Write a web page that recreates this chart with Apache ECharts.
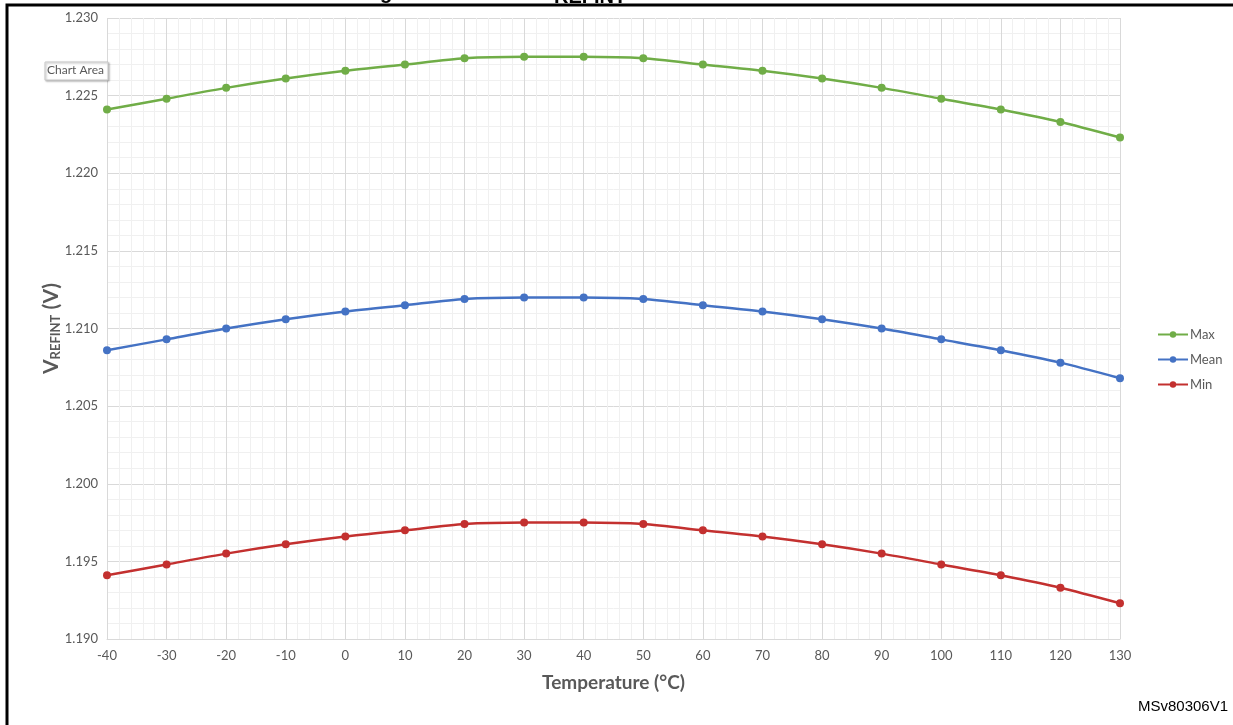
<!DOCTYPE html>
<html>
<head>
<meta charset="utf-8">
<script src="https://cdn.jsdelivr.net/npm/echarts@6/dist/echarts.min.js"></script>
<style>
  html, body { margin: 0; padding: 0; background: #fff; }
  #chart { width: 1233px; height: 725px; }
</style>
</head>
<body>
<div id="chart"></div>
<script>
// temperature points (°C)
const temps = [-40, -30, -20, -10, 0, 10, 20, 30, 40, 50, 60, 70, 80, 90, 100, 110, 120, 130]
// VREFINT values (V)
const maxV = [1.2241, 1.2248, 1.2255, 1.2261, 1.2266, 1.2270, 1.2274, 1.2275, 1.2275, 1.2274, 1.2270, 1.2266, 1.2261, 1.2255, 1.2248, 1.2241, 1.2233, 1.2223]
const meanV = [1.2086, 1.2093, 1.2100, 1.2106, 1.2111, 1.2115, 1.2119, 1.2120, 1.2120, 1.2119, 1.2115, 1.2111, 1.2106, 1.2100, 1.2093, 1.2086, 1.2078, 1.2068]
const minV = [1.1941, 1.1948, 1.1955, 1.1961, 1.1966, 1.1970, 1.1974, 1.1975, 1.1975, 1.1974, 1.1970, 1.1966, 1.1961, 1.1955, 1.1948, 1.1941, 1.1933, 1.1923]
const seriesNames = ['Max', 'Mean', 'Min']
const colors = ['#70ad47', '#4472c4', '#c3302f']

function pairs(vals) {
  return temps.map((t, i) => [t, vals[i]])
}

const font = 'Lato, "Open Sans", sans-serif'
const chart = echarts.init(document.getElementById('chart'))

const lineSeries = [maxV, meanV, minV].map((vals, i) => ({
  name: seriesNames[i],
  type: 'line',
  smooth: 0.25,
  symbol: 'circle',
  symbolSize: 8,
  data: pairs(vals),
  itemStyle: { color: colors[i] },
  lineStyle: { width: 2.5, color: colors[i] }
}))

chart.setOption({
  animation: false,
  color: colors,
  grid: { left: 107, right: 113, top: 18, bottom: 86 },
  legend: {
    data: seriesNames,
    orient: 'vertical',
    left: 1152,
    top: 323,
    itemWidth: 30,
    itemHeight: 8,
    itemGap: 12,
    textStyle: { color: '#595959', fontSize: 13, fontFamily: font, padding: [0, 0, 0, -3] }
  },
  xAxis: {
    type: 'value',
    min: -40,
    max: 130,
    interval: 10,
    name: 'Temperature (°C)',
    nameLocation: 'middle',
    nameGap: 34,
    nameMoveOverlap: false,
    nameTextStyle: { color: '#595959', fontSize: 19, fontWeight: 'bold', fontFamily: font },
    axisLine: { show: true, lineStyle: { color: '#d9d9d9', width: 1 } },
    axisTick: { show: false },
    axisLabel: { color: '#595959', fontSize: 13, fontFamily: font, margin: 10 },
    splitLine: { show: true, lineStyle: { color: '#d9d9d9', width: 1 } },
    minorTick: { show: false, splitNumber: 5 },
    minorSplitLine: { show: true, lineStyle: { color: '#f0f0f0', width: 1 } }
  },
  yAxis: {
    type: 'value',
    min: 1.19,
    max: 1.23,
    interval: 0.005,
    name: '{v|V}{s|REFINT}{v| (V)}',
    nameLocation: 'middle',
    nameGap: 45,
    nameMoveOverlap: false,
    nameTextStyle: {
      rich: {
        v: { color: '#595959', fontSize: 21, fontWeight: 'bold', fontFamily: font },
        s: { color: '#595959', fontSize: 13, fontWeight: 'bold', fontFamily: font, padding: [9, 0, 0, 0] }
      }
    },
    axisLine: { show: true, lineStyle: { color: '#d9d9d9', width: 1 } },
    axisTick: { show: false },
    axisLabel: {
      color: '#595959', fontSize: 13, fontFamily: font, margin: 9,
      formatter: v => v.toFixed(3)
    },
    splitLine: { show: true, lineStyle: { color: '#d9d9d9', width: 1 } },
    minorTick: { show: false, splitNumber: 5 },
    minorSplitLine: { show: true, lineStyle: { color: '#f0f0f0', width: 1 } }
  },
  graphic: [
    // page frame, right and bottom run off the picture
    { type: 'rect', shape: { x: 7, y: 5, width: 1240, height: 740 }, style: { fill: 'none', stroke: '#000', lineWidth: 3 }, z: 100 },
    // cut-off figure caption
    { type: 'text', left: 380, top: -17, style: { text: 'g', font: 'bold 20px "Liberation Sans", Arial', fill: '#000' } },
    { type: 'text', left: 554, top: -13, style: { text: 'REFINT', font: 'bold 20px "Liberation Sans", Arial', fill: '#000' } },
    // excel hover tip
    { type: 'rect', shape: { x: 45, y: 62, width: 63, height: 18 }, style: { fill: '#fff', stroke: '#c8c8c8', lineWidth: 1, shadowBlur: 2, shadowOffsetX: 1, shadowOffsetY: 1, shadowColor: 'rgba(0,0,0,0.3)' }, z: 50 },
    { type: 'text', left: 47, top: 64, style: { text: 'Chart Area', font: '12px ' + font, fill: '#595959' }, z: 51 },
    // reference code
    { type: 'text', right: 5, top: 699, style: { text: 'MSv80306V1', font: '15px "Liberation Sans", Arial', fill: '#000' } }
  ],
  series: lineSeries
})
</script>
</body>
</html>
